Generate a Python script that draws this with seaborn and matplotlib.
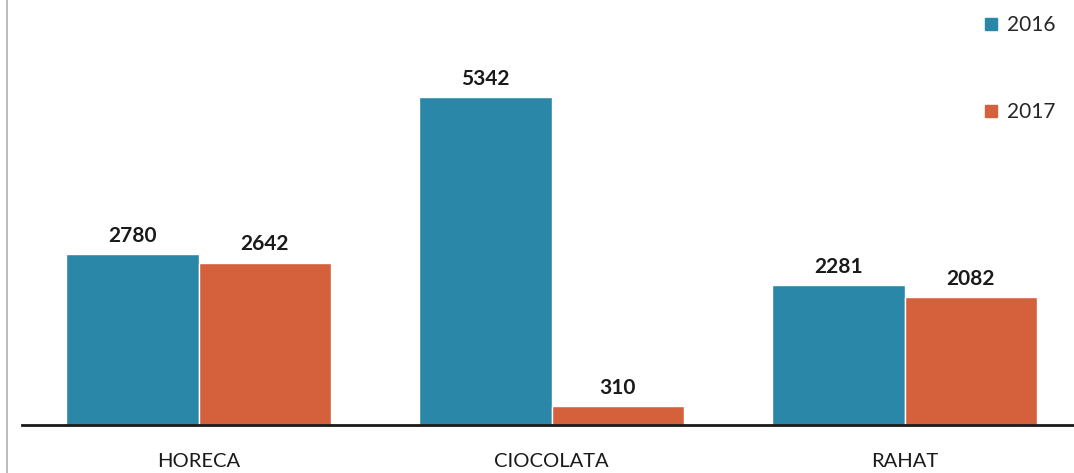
import matplotlib
matplotlib.use("Agg")
import matplotlib.pyplot as plt
import matplotlib.lines as mlines
import seaborn as sns
import pandas as pd

categories = ["HORECA", "CIOCOLATA", "RAHAT"]
years = ["2016", "2017"]
values_2016 = [2780, 5342, 2281]
values_2017 = [2642, 310, 2082]

colors = {"2016": "#2A87A8", "2017": "#D5603C"}

df = pd.DataFrame({
    "categorie": categories * 2,
    "an": [years[0]] * 3 + [years[1]] * 3,
    "valoare": values_2016 + values_2017,
})

sns.set_theme(style="white")
plt.rcParams["font.family"] = ["Lato", "DejaVu Sans"]

fig = plt.figure(figsize=(10.74, 4.73), dpi=100)
ax = fig.add_axes([0.0205, 0.1015, 0.9795, 0.8985])

sns.barplot(data=df, x="categorie", y="valoare", hue="an", order=categories,
            hue_order=years, palette=colors, saturation=1, width=0.75, gap=0.0,
            edgecolor="white", linewidth=1.0, ax=ax, legend=False)

for container in ax.containers:
    ax.bar_label(container, labels=[f"{v:.0f}" for v in container.datavalues],
                 padding=6, fontsize=15, fontweight="bold", color="#1a1a1a")

ax.set_xlim(-0.5, 2.48)
ax.set_ylim(0, 6920)
ax.set_xlabel("")
ax.set_ylabel("")
ax.set_yticks([])
ax.tick_params(axis="x", length=0, pad=20, labelsize=14.5, labelcolor="#1a1a1a")
for side in ["top", "right", "left"]:
    ax.spines[side].set_visible(False)
ax.spines["bottom"].set_color("#1a1a1a")
ax.spines["bottom"].set_linewidth(2)

# legend entries stacked with wide spacing at the top right
handles = [mlines.Line2D([], [], marker="s", linestyle="none", markersize=9,
                         color=colors[y]) for y in years]
fig.legend(handles, years, loc="upper left", bbox_to_anchor=(0.907, 0.985),
           frameon=False, fontsize=15, handletextpad=0.4, labelspacing=3.2,
           handlelength=0.8, borderaxespad=0)

# thin frame line at the left edge
fig.add_artist(mlines.Line2D([0.0065, 0.0065], [0, 1], color="#b0b0b0",
                             linewidth=1.2, transform=fig.transFigure))

fig.savefig("out.png", dpi=100)
